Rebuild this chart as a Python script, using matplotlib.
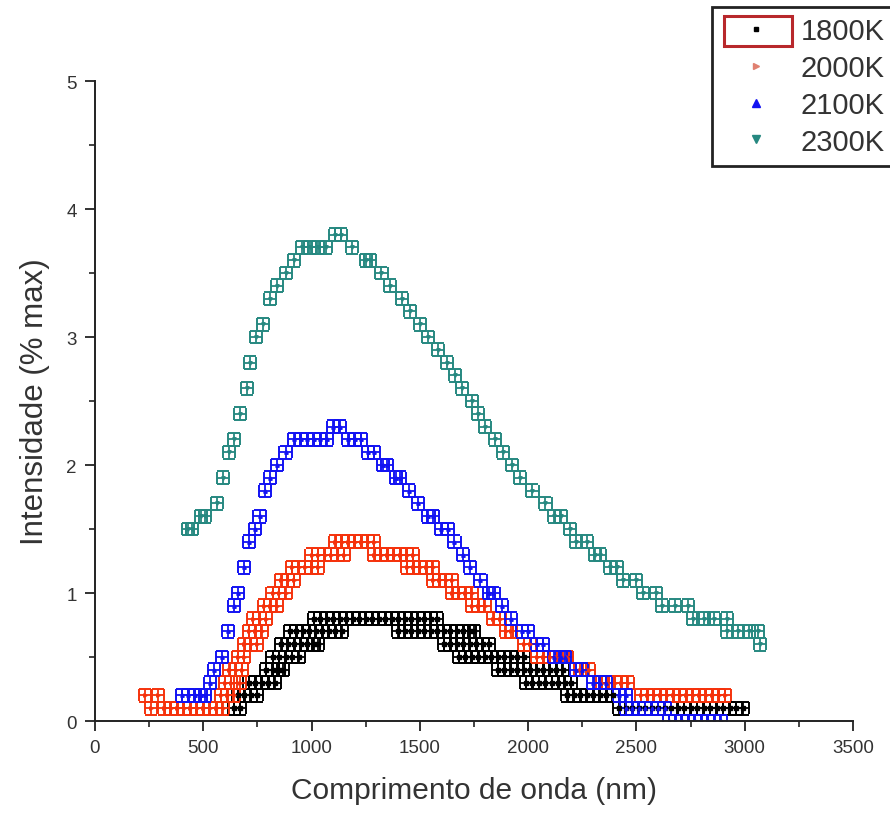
import matplotlib
matplotlib.use("Agg")
import matplotlib.pyplot as plt
from matplotlib.lines import Line2D
from matplotlib.patches import Rectangle
from matplotlib.ticker import MultipleLocator

# wavelength (nm), intensity (% max) read per temperature
t1800 = [(640, 0.1), (660, 0.2), (670, 0.1), (690, 0.2), (710, 0.3), (720, 0.2), (740, 0.3),
         (750, 0.2), (770, 0.3), (790, 0.4), (800, 0.3), (820, 0.4), (820, 0.5), (830, 0.3),
         (850, 0.4), (850, 0.5), (860, 0.6), (870, 0.4), (880, 0.5), (890, 0.6), (900, 0.7),
         (910, 0.5), (920, 0.6), (930, 0.7), (940, 0.5), (950, 0.6), (960, 0.7), (980, 0.6),
         (990, 0.7), (1010, 0.6), (1010, 0.8), (1020, 0.7), (1030, 0.6), (1040, 0.8), (1050, 0.7),
         (1070, 0.8), (1080, 0.7), (1100, 0.8), (1110, 0.7), (1130, 0.8), (1140, 0.7), (1160, 0.8),
         (1190, 0.8), (1220, 0.8), (1250, 0.8), (1280, 0.8), (1310, 0.8), (1340, 0.8), (1370, 0.8),
         (1400, 0.8), (1400, 0.7), (1430, 0.8), (1430, 0.7), (1460, 0.8), (1460, 0.7), (1490, 0.8),
         (1490, 0.7), (1520, 0.8), (1520, 0.7), (1550, 0.8), (1550, 0.7), (1580, 0.8), (1580, 0.7),
         (1610, 0.7), (1610, 0.6), (1640, 0.7), (1640, 0.6), (1670, 0.7), (1670, 0.6), (1680, 0.5),
         (1700, 0.7), (1700, 0.6), (1710, 0.5), (1730, 0.7), (1730, 0.6), (1740, 0.5), (1750, 0.7),
         (1760, 0.6), (1770, 0.5), (1790, 0.6), (1800, 0.5), (1820, 0.6), (1830, 0.5), (1860, 0.5),
         (1860, 0.4), (1890, 0.5), (1890, 0.4), (1920, 0.5), (1920, 0.4), (1950, 0.5), (1950, 0.4),
         (1980, 0.5), (1980, 0.4), (1990, 0.3), (2010, 0.4), (2020, 0.3), (2040, 0.4), (2050, 0.3),
         (2070, 0.4), (2080, 0.3), (2100, 0.4), (2110, 0.3), (2130, 0.4), (2140, 0.3), (2160, 0.4),
         (2170, 0.3), (2180, 0.2), (2200, 0.3), (2210, 0.2), (2240, 0.2), (2270, 0.2), (2300, 0.2),
         (2330, 0.2), (2360, 0.2), (2390, 0.2), (2420, 0.1), (2450, 0.1), (2480, 0.1), (2510, 0.1),
         (2540, 0.1), (2570, 0.1), (2600, 0.1), (2630, 0.1), (2660, 0.1), (2690, 0.1), (2720, 0.1),
         (2750, 0.1), (2780, 0.1), (2810, 0.1), (2840, 0.1), (2870, 0.1), (2900, 0.1), (2930, 0.1),
         (2960, 0.1), (2990, 0.1)]

t2000 = [(230, 0.2), (260, 0.1), (290, 0.2), (320, 0.1), (350, 0.1), (380, 0.1), (410, 0.1),
         (440, 0.1), (470, 0.1), (500, 0.1), (530, 0.1), (560, 0.1), (580, 0.2), (590, 0.1),
         (600, 0.3), (610, 0.2), (620, 0.4), (630, 0.3), (640, 0.2), (650, 0.4), (660, 0.5),
         (670, 0.3), (680, 0.4), (690, 0.5), (690, 0.6), (710, 0.7), (720, 0.6), (730, 0.8),
         (740, 0.7), (750, 0.6), (760, 0.8), (770, 0.7), (780, 0.9), (790, 0.8), (810, 0.9),
         (820, 1.0), (840, 0.9), (850, 1.0), (860, 1.1), (880, 1.0), (890, 1.1), (910, 1.2),
         (920, 1.1), (940, 1.2), (970, 1.2), (1000, 1.2), (1000, 1.3), (1030, 1.2), (1030, 1.3),
         (1060, 1.3), (1090, 1.3), (1110, 1.4), (1120, 1.3), (1140, 1.4), (1150, 1.3), (1170, 1.4),
         (1200, 1.4), (1230, 1.4), (1260, 1.4), (1290, 1.4), (1290, 1.3), (1320, 1.3), (1350, 1.3),
         (1380, 1.3), (1410, 1.3), (1440, 1.3), (1440, 1.2), (1470, 1.3), (1470, 1.2), (1500, 1.2),
         (1530, 1.2), (1560, 1.2), (1560, 1.1), (1590, 1.1), (1620, 1.1), (1650, 1.1), (1650, 1.0),
         (1680, 1.0), (1710, 1.0), (1740, 1.0), (1740, 0.9), (1770, 0.9), (1800, 0.9), (1840, 0.8),
         (1870, 0.8), (1900, 0.7), (1920, 0.7), (1980, 0.6), (2010, 0.6), (2040, 0.5), (2070, 0.5),
         (2100, 0.5), (2130, 0.5), (2160, 0.5), (2180, 0.5), (2240, 0.4), (2280, 0.4), (2340, 0.3),
         (2370, 0.3), (2400, 0.3), (2430, 0.3), (2460, 0.3), (2520, 0.2), (2550, 0.2), (2580, 0.2),
         (2610, 0.2), (2640, 0.2), (2670, 0.2), (2700, 0.2), (2730, 0.2), (2760, 0.2), (2790, 0.2),
         (2820, 0.2), (2850, 0.2), (2880, 0.2), (2910, 0.2)]

t2100 = [(400, 0.2), (430, 0.2), (460, 0.2), (490, 0.2), (510, 0.2), (530, 0.3), (550, 0.4),
         (585, 0.5), (615, 0.7), (640, 0.9), (660, 1.0), (690, 1.2), (710, 1.4), (740, 1.5),
         (760, 1.6), (785, 1.8), (810, 1.9), (840, 2.0), (880, 2.1), (920, 2.2), (950, 2.2),
         (980, 2.2), (1010, 2.2), (1040, 2.2), (1070, 2.2), (1100, 2.3), (1130, 2.3), (1170, 2.2),
         (1200, 2.2), (1230, 2.2), (1260, 2.1), (1290, 2.1), (1330, 2.0), (1350, 2.0), (1390, 1.9),
         (1410, 1.9), (1450, 1.8), (1490, 1.7), (1540, 1.6), (1560, 1.6), (1600, 1.5), (1630, 1.5),
         (1660, 1.4), (1700, 1.3), (1730, 1.2), (1780, 1.1), (1820, 1.0), (1840, 1.0), (1880, 0.9),
         (1920, 0.8), (1970, 0.7), (2000, 0.7), (2040, 0.6), (2070, 0.6), (2120, 0.5), (2150, 0.5),
         (2170, 0.5), (2220, 0.4), (2250, 0.4), (2300, 0.3), (2330, 0.3), (2360, 0.3), (2420, 0.2),
         (2450, 0.2), (2450, 0.1), (2480, 0.1), (2510, 0.1), (2540, 0.1), (2570, 0.1), (2600, 0.1),
         (2630, 0.1), (2650, 0.0), (2680, 0.0), (2710, 0.0), (2740, 0.0), (2770, 0.0), (2800, 0.0),
         (2830, 0.0), (2860, 0.0), (2890, 0.0)]

t2300 = [(430, 1.5), (450, 1.5), (490, 1.6), (510, 1.6), (563, 1.7), (590, 1.9), (620, 2.1),
         (640, 2.2), (670, 2.4), (700, 2.6), (715, 2.8), (745, 3.0), (775, 3.1), (808, 3.3),
         (842, 3.4), (882, 3.5), (919, 3.6), (954, 3.7), (991, 3.7), (1028, 3.7), (1065, 3.7),
         (1110, 3.8), (1135, 3.8), (1185, 3.7), (1250, 3.6), (1270, 3.6), (1323, 3.5), (1362, 3.4),
         (1416, 3.3), (1454, 3.2), (1500, 3.1), (1539, 3.0), (1585, 2.9), (1627, 2.8), (1662, 2.7),
         (1693, 2.6), (1739, 2.5), (1770, 2.4), (1800, 2.3), (1847, 2.2), (1885, 2.1), (1924, 2.0),
         (1962, 1.9), (2020, 1.8), (2080, 1.7), (2120, 1.6), (2150, 1.6), (2193, 1.5), (2220, 1.4),
         (2270, 1.4), (2310, 1.3), (2330, 1.3), (2380, 1.2), (2410, 1.2), (2440, 1.1), (2500, 1.1),
         (2530, 1.0), (2590, 1.0), (2620, 0.9), (2680, 0.9), (2740, 0.9), (2760, 0.8), (2810, 0.8),
         (2860, 0.8), (2920, 0.8), (2920, 0.7), (2970, 0.7), (3020, 0.7), (3060, 0.7), (3070, 0.6)]

labels = ["1800K", "2000K", "2100K", "2300K"]
colors = ["#000000", "#f5320c", "#1212f2", "#268880"]
markers = ["s", ">", "^", "v"]

x_err = 28      # nm
y_err = 0.05    # % max

plt.rcParams["font.family"] = ["Liberation Sans", "DejaVu Sans"]

fig = plt.figure(figsize=(8.9, 8.2), dpi=100)
ax = fig.add_axes([0.1067, 0.1195, 0.8517, 0.7805])

for data, c, m in zip([t1800, t2000, t2100, t2300], colors, markers):
    xs = [p[0] for p in data]
    ys = [p[1] for p in data]
    ax.errorbar(xs, ys, xerr=x_err, yerr=y_err, fmt=m, ms=2.5, color=c,
                ecolor=c, elinewidth=1.3, capsize=4.3, capthick=1.4)

ax.set_xlim(0, 3500)
ax.set_ylim(0, 5)
ax.xaxis.set_major_locator(MultipleLocator(500))
ax.xaxis.set_minor_locator(MultipleLocator(250))
ax.yaxis.set_major_locator(MultipleLocator(1))
ax.yaxis.set_minor_locator(MultipleLocator(0.5))

for side in ["top", "right"]:
    ax.spines[side].set_visible(False)
for side in ["left", "bottom"]:
    ax.spines[side].set_linewidth(1.4)
    ax.spines[side].set_color("#222222")

ax.tick_params(which="major", direction="out", length=7, width=1.3, color="#222222",
               labelsize=13.5, labelcolor="#333333", pad=6)
ax.tick_params(which="minor", direction="out", length=4, width=1.2, color="#222222")

ax.set_xlabel("Comprimento de onda (nm)", fontsize=21.5, color="#333333", labelpad=14)
ax.set_ylabel("Intensidade (% max)", fontsize=22.5, color="#333333", labelpad=12)

handles = [Line2D([], [], ls="none", marker="s", ms=2.5, color=colors[0]),
           Line2D([], [], ls="none", marker=">", ms=4, color="#e08070"),
           Line2D([], [], ls="none", marker="^", ms=6, color=colors[2]),
           Line2D([], [], ls="none", marker="v", ms=6, color=colors[3])]
leg = fig.legend(handles, labels, loc="upper left", bbox_to_anchor=(0.8, 0.99),
                 bbox_transform=fig.transFigure, fontsize=21, frameon=True,
                 fancybox=False, edgecolor="#222222", framealpha=1, borderaxespad=0,
                 handlelength=2.35, handletextpad=0.35, labelspacing=0.3,
                 borderpad=0.35)
leg.get_frame().set_linewidth(2)
for t in leg.get_texts():
    t.set_color("#333333")

# selection box around the first legend symbol
fig.canvas.draw()
rend = fig.canvas.get_renderer()
tb = leg.get_texts()[0].get_window_extent(rend)
fs_px = 21 * fig.dpi / 72
x1 = tb.x0 - 0.3 * fs_px
x0 = x1 - 2.35 * fs_px
inv = fig.transFigure.inverted()
(fx0, fy0), (fx1, fy1) = inv.transform([(x0, tb.y0 - 1), (x1, tb.y1 + 1)])
fig.patches.append(Rectangle((fx0, fy0), fx1 - fx0, fy1 - fy0, transform=fig.transFigure,
                             fill=False, edgecolor="#b8282c", linewidth=2.2, zorder=10))

fig.savefig("out.png", dpi=100)
